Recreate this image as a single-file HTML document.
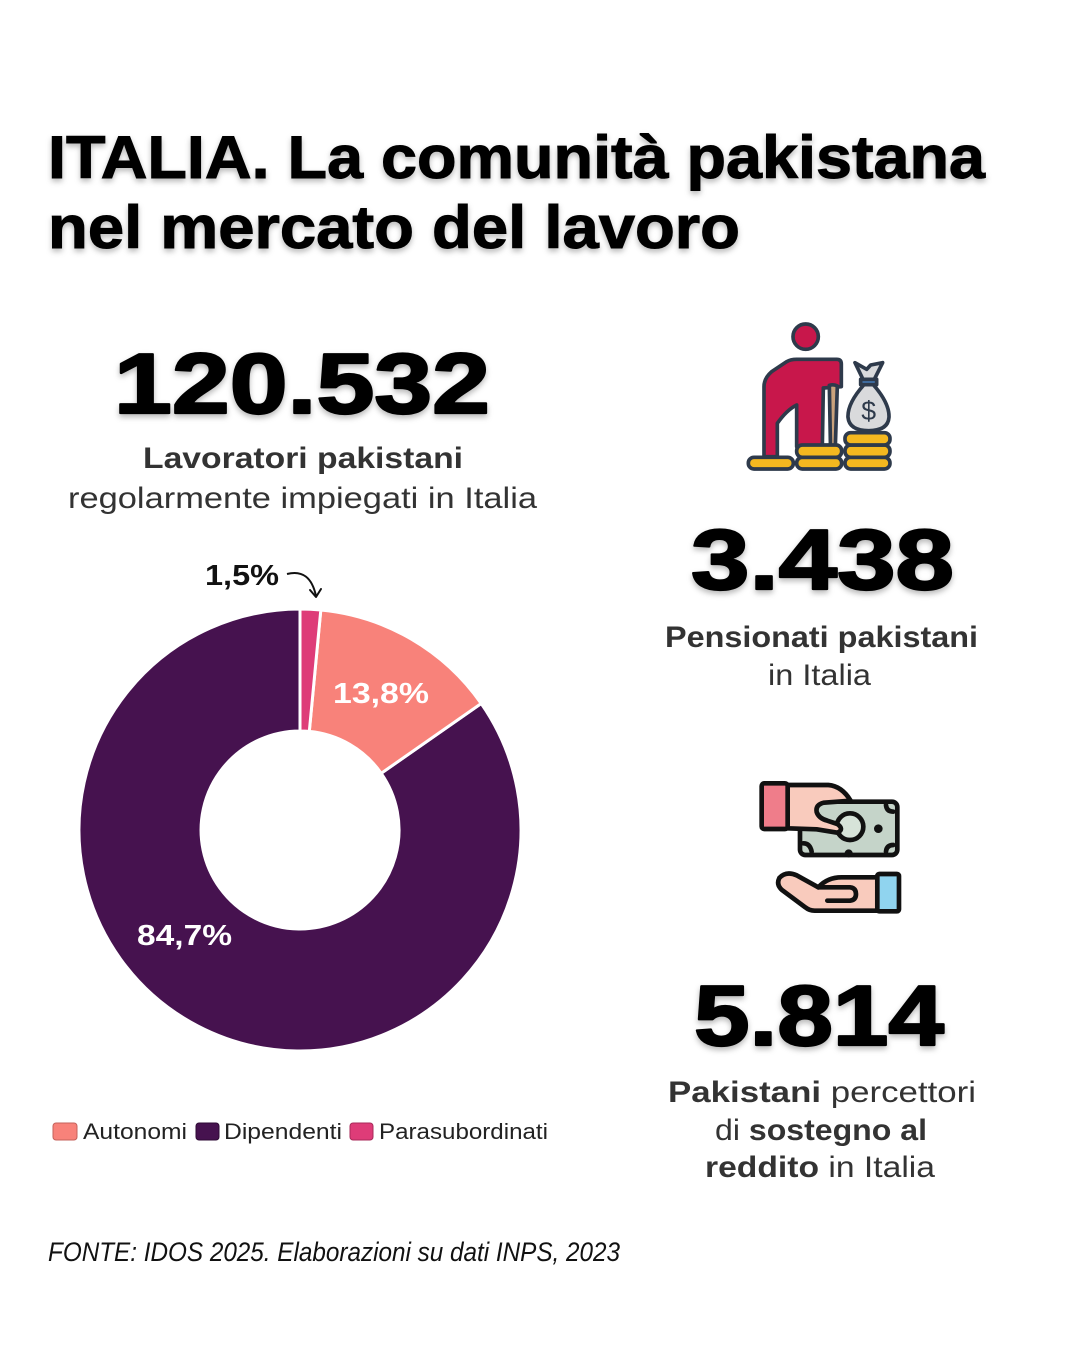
<!DOCTYPE html>
<html><head><meta charset="utf-8">
<style>
html,body{margin:0;padding:0;background:#fff;}
svg{display:block;}
text{font-family:"Liberation Sans",sans-serif;}
</style></head>
<body>
<svg width="1080" height="1350" viewBox="0 0 1080 1350" xmlns="http://www.w3.org/2000/svg">
<defs>
<filter id="sh" x="-10%" y="-30%" width="120%" height="170%">
<feDropShadow dx="0" dy="3" stdDeviation="3" flood-color="#000" flood-opacity="0.28"/>
</filter>
</defs>
<rect width="1080" height="1350" fill="#fff"/>

<!-- Title -->
<g filter="url(#sh)" fill="#000" stroke="#000" stroke-width="1" font-weight="bold" font-size="60">
<text x="48" y="178" textLength="937" lengthAdjust="spacingAndGlyphs">ITALIA. La comunità pakistana</text>
<text x="48" y="248" textLength="692" lengthAdjust="spacingAndGlyphs">nel mercato del lavoro</text>
</g>

<!-- Big numbers -->
<g filter="url(#sh)" fill="#000" stroke="#000" stroke-width="2.2" stroke-linejoin="round" font-weight="bold" font-size="85">
<text x="114" y="413" textLength="376" lengthAdjust="spacingAndGlyphs">120.532</text>
<text x="691" y="589" textLength="263" lengthAdjust="spacingAndGlyphs">3.438</text>
<text x="694" y="1045" textLength="250" lengthAdjust="spacingAndGlyphs">5.814</text>
</g>

<!-- Labels left -->
<text x="143" y="468" font-size="30" font-weight="bold" fill="#333" textLength="320" lengthAdjust="spacingAndGlyphs">Lavoratori pakistani</text>
<text x="68" y="508" font-size="30" fill="#333" textLength="469" lengthAdjust="spacingAndGlyphs">regolarmente impiegati in Italia</text>

<!-- Labels right -->
<text x="665" y="647" font-size="30" font-weight="bold" fill="#333" textLength="313" lengthAdjust="spacingAndGlyphs">Pensionati pakistani</text>
<text x="768" y="685" font-size="30" fill="#333" textLength="103" lengthAdjust="spacingAndGlyphs">in Italia</text>

<text x="668" y="1102" font-size="30" fill="#333" textLength="308" lengthAdjust="spacingAndGlyphs"><tspan font-weight="bold">Pakistani</tspan> percettori</text>
<text x="715" y="1140" font-size="30" fill="#333" textLength="212" lengthAdjust="spacingAndGlyphs">di <tspan font-weight="bold">sostegno al</tspan></text>
<text x="705" y="1177" font-size="30" fill="#333" textLength="230" lengthAdjust="spacingAndGlyphs"><tspan font-weight="bold">reddito</tspan> in Italia</text>

<!-- Donut -->
<g stroke="#fff" stroke-width="3" stroke-linejoin="round">
<path d="M481.2 703.5 A221 221 0 1 1 300 609 L300 731 A99 99 0 1 0 381.2 773.3 Z" fill="#46124f"/>
<path d="M320.8 610 A221 221 0 0 1 481.2 703.5 L381.2 773.3 A99 99 0 0 0 309.3 731.4 Z" fill="#f8827a"/>
<path d="M300 609 A221 221 0 0 1 320.8 610 L309.3 731.4 A99 99 0 0 0 300 731 Z" fill="#de3c78"/>
</g>
<text x="333" y="703" font-size="29" font-weight="bold" fill="#fff" textLength="96" lengthAdjust="spacingAndGlyphs">13,8%</text>
<text x="137" y="945" font-size="29" font-weight="bold" fill="#fff" textLength="95" lengthAdjust="spacingAndGlyphs">84,7%</text>
<text x="205" y="585" font-size="29" font-weight="bold" fill="#111" textLength="74" lengthAdjust="spacingAndGlyphs">1,5%</text>
<path d="M287 574 Q310 568 316 596" fill="none" stroke="#111" stroke-width="2"/>
<path d="M310 590 L316 597 L321 589" fill="none" stroke="#111" stroke-width="2" stroke-linecap="round" stroke-linejoin="round"/>

<!-- Legend -->
<rect x="53" y="1123" width="24" height="17" rx="3" fill="#f8827a" stroke="#c4625b" stroke-width="1"/>
<text x="83" y="1139" font-size="22" fill="#222" textLength="104" lengthAdjust="spacingAndGlyphs">Autonomi</text>
<rect x="196" y="1123" width="23" height="17" rx="3" fill="#46124f" stroke="#2e0a35" stroke-width="1"/>
<text x="224" y="1139" font-size="22" fill="#222" textLength="118" lengthAdjust="spacingAndGlyphs">Dipendenti</text>
<rect x="350" y="1123" width="23" height="17" rx="3" fill="#de3c78" stroke="#a82a5a" stroke-width="1"/>
<text x="379" y="1139" font-size="22" fill="#222" textLength="169" lengthAdjust="spacingAndGlyphs">Parasubordinati</text>

<!-- Footer -->
<text x="48" y="1261" font-size="27" font-style="italic" fill="#111" textLength="572" lengthAdjust="spacingAndGlyphs">FONTE: IDOS 2025. Elaborazioni su dati INPS, 2023</text>

<!-- Pension icon -->
<g transform="translate(740,310) scale(0.3333)" stroke="#2e3a4b" stroke-width="11" stroke-linejoin="round">
<circle cx="197" cy="80" r="38" fill="#c8174b"/>
<path d="M72 440 L72 230 Q72 205 95 185 L140 155 Q152 148 170 148 L290 148 Q304 148 304 162 L304 230 L250 234 L247 410 L170 410 L170 285 Q140 300 112 340 L112 440 Z" fill="#c8174b"/>
<path d="M268 226 Q282 222 292 228 L285 440 L272 440 Z" fill="#c9a27c"/>
<rect x="25" y="442" width="135" height="35" rx="17" fill="#f4b81f"/>
<rect x="170" y="442" width="135" height="35" rx="17" fill="#f4b81f"/>
<rect x="170" y="405" width="135" height="37" rx="17" fill="#f4b81f"/>
<rect x="315" y="442" width="135" height="35" rx="17" fill="#f4b81f"/>
<rect x="315" y="405" width="135" height="37" rx="17" fill="#f4b81f"/>
<rect x="315" y="368" width="135" height="37" rx="17" fill="#f4b81f"/>
<path d="M372 224 Q322 280 324 322 Q328 362 386 362 Q444 362 447 322 Q449 280 400 224 Z" fill="#d9dadc"/>
<path d="M345 158 L380 178 L392 165 L428 158 L402 210 L370 210 Z" fill="#d9dadc"/>
<rect x="362" y="208" width="48" height="16" fill="#4071a8"/>
<text x="386" y="330" font-size="80" text-anchor="middle" fill="#2e3a4b" stroke="none">$</text>
</g>

<!-- Hands icon -->
<g transform="translate(750,770) scale(0.3333)" stroke="#111" stroke-width="14" stroke-linejoin="round" stroke-linecap="round">
<rect x="150" y="95" width="292" height="160" rx="16" fill="#c5d4c9"/>
<path d="M160 220 Q180 220 185 245" fill="none"/>
<path d="M430 125 Q410 125 408 105" fill="none"/>
<path d="M430 225 Q410 225 408 245" fill="none"/>
<circle cx="385" cy="176" r="6" fill="#111"/>
<circle cx="296" cy="250" r="5" fill="#111"/>
<circle cx="300" cy="170" r="40" fill="#d7e3d9"/>
<path d="M112 45 L235 45 Q275 48 302 92 L222 98 Q196 104 200 126 Q206 145 232 152 L262 162 Q284 178 262 188 L200 178 L112 175 Z" fill="#f9cbbd"/>
<rect x="35" y="40" width="78" height="137" rx="8" fill="#ef7d8a"/>
<path d="M382 322 L275 322 Q232 322 205 352 L140 316 Q108 302 88 324 Q78 344 96 360 L166 412 Q178 422 194 422 L382 422 Z" fill="#f9cbbd"/>
<path d="M205 352 L300 352 Q318 354 318 372 Q318 390 300 392 L232 392" fill="none"/>
<rect x="382" y="312" width="65" height="112" rx="6" fill="#90d4ef"/>
</g>
</svg>
</body></html>
